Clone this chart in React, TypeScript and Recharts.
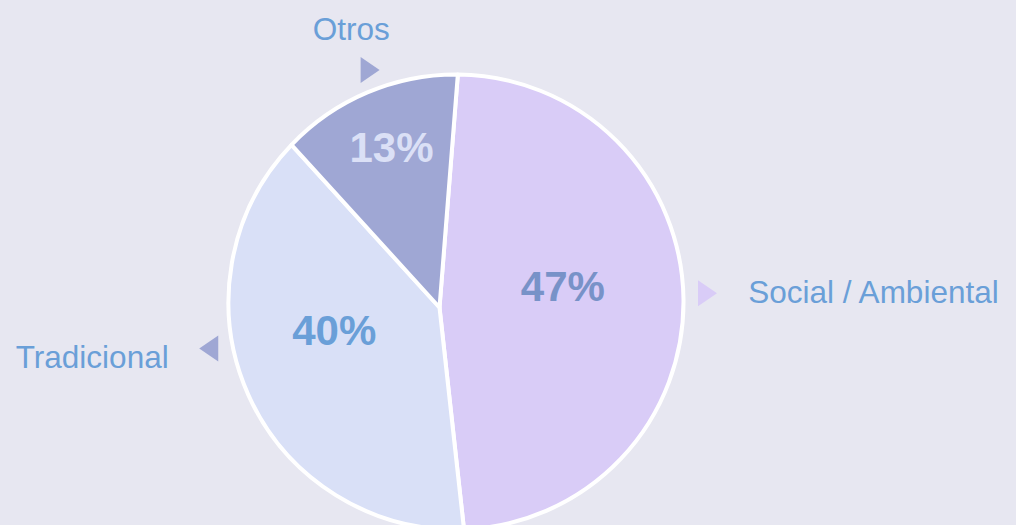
import React from 'react';
import { PieChart, Pie, Cell } from 'recharts';

// ---- data ----
const CATEGORIES = ['Social / Ambiental', 'Tradicional', 'Otros'];
const SHARES = [47, 40, 13];

// ---- styles / layout ----
const BG = '#e7e7f1';
const SLICE_COLORS = ['#d9ccf7', '#d9e0f7', '#9fa7d4'];
const MARKER_COLORS = ['#d9ccf7', '#9fa7d4', '#9fa7d4'];
const PCT_COLORS = ['#7892c8', '#6a9fd8', '#dbe0f6'];
const TEXT_COLOR = '#6a9fd8';
const FONT = '"Liberation Sans", Arial, Helvetica, sans-serif';
const START_ANGLE = 85.5;
const INNER_POS = [
  { da: 7.5, r: 0.475 },
  { da: -11, r: 0.55 },
  { da: 3.8, r: 0.735 },
];
const OUTER_DA = [1.1, -13.5, 2.1];
const APEX_SHIFT = { x: -16.5, y: 5.5 };
const RAD = Math.PI / 180;

const data = CATEGORIES.map((name, i) => ({ name, value: SHARES[i] }));

function OffsetSector(props: any) {
  const { cx, cy, outerRadius, startAngle, endAngle, fill, stroke, strokeWidth } = props;
  const ax = cx + APEX_SHIFT.x;
  const ay = cy + APEX_SHIFT.y;
  const hit = (deg: number) => {
    const ux = Math.cos(deg * RAD);
    const uy = -Math.sin(deg * RAD);
    const wx = ax - cx;
    const wy = ay - cy;
    const b = wx * ux + wy * uy;
    const c = wx * wx + wy * wy - outerRadius * outerRadius;
    const t = -b + Math.sqrt(b * b - c);
    return [ax + t * ux, ay + t * uy];
  };
  const p1 = hit(startAngle);
  const p2 = hit(endAngle);
  const a1 = Math.atan2(-(p1[1] - cy), p1[0] - cx) / RAD;
  const a2 = Math.atan2(-(p2[1] - cy), p2[0] - cx) / RAD;
  let span = startAngle > endAngle ? a1 - a2 : a2 - a1;
  span = ((span % 360) + 360) % 360;
  const large = span > 180 ? 1 : 0;
  const sweep = startAngle > endAngle ? 1 : 0;
  const d = `M${ax},${ay} L${p1[0]},${p1[1]} A${outerRadius},${outerRadius} 0 ${large} ${sweep} ${p2[0]},${p2[1]} Z`;
  return <path d={d} fill={fill} stroke={stroke} strokeWidth={strokeWidth} strokeLinejoin="round" />;
}

function renderLabel(props: any) {
  const { cx, cy, midAngle, outerRadius, percent, name, index } = props;
  const R = outerRadius;
  const ip = INNER_POS[index];
  const ia = (midAngle + ip.da) * RAD;
  const ix = cx + R * ip.r * Math.cos(ia);
  const iy = cy - R * ip.r * Math.sin(ia);

  const oa = (midAngle + OUTER_DA[index]) * RAD;
  const cos = Math.cos(oa);
  const mr = R + 21;
  const mx = cx + mr * Math.cos(oa);
  const my = cy - mr * Math.sin(oa);
  const dir = cos >= -0.5 ? 1 : -1;
  const depth = 19;
  const base = 26;
  const tri = `${mx + dir * (2 * depth) / 3},${my} ${mx - dir * depth / 3},${my - base / 2} ${mx - dir * depth / 3},${my + base / 2}`;

  const tr = R + 65;
  const tx = cx + tr * Math.cos(oa);
  const ty = cy - tr * Math.sin(oa);
  const anchor = cos > 0.3 ? 'start' : cos < -0.5 ? 'end' : 'middle';

  return (
    <g>
      <text
        x={ix}
        y={iy}
        textAnchor="middle"
        dominantBaseline="central"
        fill={PCT_COLORS[index]}
        fontFamily={FONT}
        fontWeight="bold"
        fontSize={42}
      >
        {`${Math.round(percent * 100)}%`}
      </text>
      <polygon points={tri} fill={MARKER_COLORS[index]} />
      <text
        x={tx}
        y={ty}
        textAnchor={anchor}
        dominantBaseline="central"
        fill={TEXT_COLOR}
        fontFamily={FONT}
        fontSize={31.5}
      >
        {name}
      </text>
    </g>
  );
}

export default function App() {
  return (
    <div style={{ width: 1016, height: 525, background: BG, position: 'absolute', left: 0, top: 0 }}>
      <style>{'html,body{margin:0;padding:0;background:' + BG + ';}'}</style>
      <PieChart width={1016} height={525} margin={{ top: 0, right: 0, bottom: 0, left: 0 }}>
        <Pie
          data={data}
          dataKey="value"
          nameKey="name"
          cx={456}
          cy={302}
          outerRadius={227.5}
          startAngle={START_ANGLE}
          endAngle={START_ANGLE - 360}
          stroke="#ffffff"
          strokeWidth={4}
          labelLine={false}
          label={renderLabel}
          shape={OffsetSector}
          isAnimationActive={false}
        >
          {data.map((d, i) => (
            <Cell key={d.name} fill={SLICE_COLORS[i]} />
          ))}
        </Pie>
      </PieChart>
    </div>
  );
}
